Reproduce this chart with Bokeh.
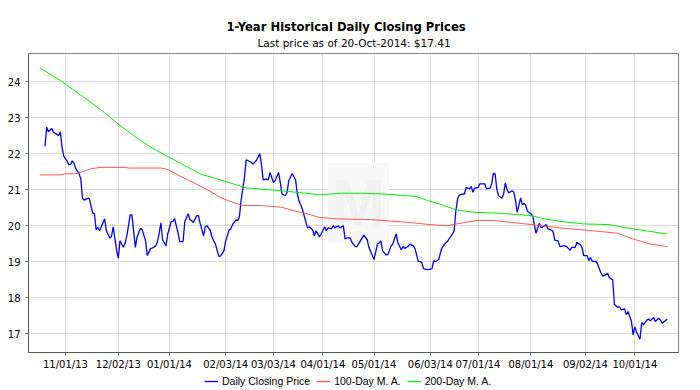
import pandas as pd
from bokeh.plotting import figure
from bokeh.layouts import column
from bokeh.models import (Range1d, FixedTicker, DatetimeTickFormatter, Legend,
                          LegendItem, Label)
from bokeh.embed import file_html
from bokeh.resources import INLINE

title_text = "1-Year Historical Daily Closing Prices"
subtitle_text = "Last price as of 20-Oct-2014: $17.41"

price_dates = [
    "2013-10-20", "2013-10-21", "2013-10-22", "2013-10-24", "2013-10-25", "2013-10-27", "2013-10-28",
    "2013-10-29", "2013-10-30", "2013-10-31", "2013-11-02", "2013-11-03", "2013-11-04", "2013-11-05",
    "2013-11-06", "2013-11-07", "2013-11-09", "2013-11-10", "2013-11-11", "2013-11-12", "2013-11-14",
    "2013-11-15", "2013-11-16", "2013-11-17", "2013-11-18", "2013-11-19", "2013-11-20", "2013-11-21",
    "2013-11-24", "2013-11-25", "2013-11-27", "2013-11-28", "2013-11-29", "2013-12-01", "2013-12-02",
    "2013-12-03", "2013-12-05", "2013-12-06", "2013-12-07", "2013-12-09", "2013-12-10", "2013-12-12",
    "2013-12-13", "2013-12-15", "2013-12-16", "2013-12-18", "2013-12-19", "2013-12-21", "2013-12-22",
    "2013-12-24", "2013-12-25", "2013-12-26", "2013-12-27", "2013-12-28", "2013-12-30", "2013-12-31",
    "2014-01-02", "2014-01-03", "2014-01-04", "2014-01-06", "2014-01-07", "2014-01-09", "2014-01-10",
    "2014-01-12", "2014-01-13", "2014-01-14", "2014-01-15", "2014-01-17", "2014-01-18", "2014-01-19",
    "2014-01-21", "2014-01-22", "2014-01-23", "2014-01-25", "2014-01-26", "2014-01-27", "2014-01-28",
    "2014-01-30", "2014-01-31", "2014-02-02", "2014-02-03", "2014-02-05", "2014-02-06", "2014-02-07",
    "2014-02-09", "2014-02-10", "2014-02-11", "2014-02-12", "2014-02-14", "2014-02-15", "2014-02-16",
    "2014-02-18", "2014-02-19", "2014-02-21", "2014-02-23", "2014-02-24", "2014-02-25", "2014-02-27",
    "2014-02-28", "2014-03-01", "2014-03-03", "2014-03-04", "2014-03-06", "2014-03-07", "2014-03-08",
    "2014-03-10", "2014-03-11", "2014-03-12", "2014-03-14", "2014-03-16", "2014-03-17", "2014-03-18",
    "2014-03-20", "2014-03-21", "2014-03-23", "2014-03-24", "2014-03-26", "2014-03-27", "2014-03-28",
    "2014-03-30", "2014-03-31", "2014-04-02", "2014-04-03", "2014-04-04", "2014-04-06", "2014-04-07",
    "2014-04-08", "2014-04-10", "2014-04-11", "2014-04-13", "2014-04-14", "2014-04-15", "2014-04-17",
    "2014-04-18", "2014-04-20", "2014-04-21", "2014-04-23", "2014-04-25", "2014-04-27", "2014-04-28",
    "2014-04-30", "2014-05-01", "2014-05-03", "2014-05-04", "2014-05-05", "2014-05-06", "2014-05-08",
    "2014-05-09", "2014-05-11", "2014-05-12", "2014-05-14", "2014-05-15", "2014-05-17", "2014-05-18",
    "2014-05-19", "2014-05-21", "2014-05-22", "2014-05-24", "2014-05-25", "2014-05-27", "2014-05-28",
    "2014-05-29", "2014-05-30", "2014-06-01", "2014-06-02", "2014-06-04", "2014-06-05", "2014-06-06",
    "2014-06-08", "2014-06-09", "2014-06-10", "2014-06-12", "2014-06-13", "2014-06-15", "2014-06-16",
    "2014-06-17", "2014-06-18", "2014-06-19", "2014-06-20", "2014-06-22", "2014-06-23", "2014-06-24",
    "2014-06-26", "2014-06-27", "2014-06-28", "2014-06-29", "2014-07-01", "2014-07-02", "2014-07-04",
    "2014-07-05", "2014-07-06", "2014-07-08", "2014-07-09", "2014-07-10", "2014-07-11", "2014-07-12",
    "2014-07-13", "2014-07-15", "2014-07-16", "2014-07-17", "2014-07-18", "2014-07-19", "2014-07-21",
    "2014-07-22", "2014-07-23", "2014-07-24", "2014-07-26", "2014-07-27", "2014-07-28", "2014-07-29",
    "2014-07-30", "2014-08-01", "2014-08-02", "2014-08-03", "2014-08-04", "2014-08-06", "2014-08-07",
    "2014-08-08", "2014-08-10", "2014-08-11", "2014-08-13", "2014-08-14", "2014-08-15", "2014-08-17",
    "2014-08-18", "2014-08-20", "2014-08-21", "2014-08-22", "2014-08-24", "2014-08-25", "2014-08-27",
    "2014-08-28", "2014-08-30", "2014-08-31", "2014-09-01", "2014-09-03", "2014-09-04", "2014-09-05",
    "2014-09-06", "2014-09-08", "2014-09-09", "2014-09-11", "2014-09-12", "2014-09-13", "2014-09-15",
    "2014-09-16", "2014-09-18", "2014-09-19", "2014-09-21", "2014-09-22", "2014-09-23", "2014-09-25",
    "2014-09-26", "2014-09-27", "2014-09-29", "2014-09-30", "2014-10-01", "2014-10-02", "2014-10-04",
    "2014-10-05", "2014-10-06", "2014-10-08", "2014-10-09", "2014-10-10", "2014-10-12", "2014-10-13",
    "2014-10-15", "2014-10-16", "2014-10-17", "2014-10-20",
]
price_values = [
    22.20, 22.73, 22.61, 22.70, 22.59, 22.54, 22.50,
    22.61, 22.18, 21.93, 21.79, 21.69, 21.70, 21.80,
    21.73, 21.60, 21.44, 21.30, 20.76, 20.71, 20.76,
    20.76, 20.54, 20.35, 20.34, 19.89, 19.95, 19.86,
    20.19, 19.86, 19.66, 19.70, 19.97, 19.32, 19.10,
    19.58, 19.40, 19.51, 19.72, 20.30, 20.30, 19.40,
    19.68, 19.93, 19.89, 19.58, 19.17, 19.37, 19.38,
    19.44, 19.56, 19.80, 20.08, 19.61, 19.44, 19.77,
    20.11, 20.12, 20.20, 19.81, 19.56, 19.56, 20.11,
    20.33, 20.17, 20.14, 20.09, 20.28, 20.28, 20.07,
    19.72, 19.97, 20.00, 19.86, 19.68, 19.58, 19.49,
    19.14, 19.16, 19.31, 19.58, 19.88, 19.91, 20.03,
    20.16, 20.14, 20.23, 20.69, 21.34, 21.83, 21.81,
    21.76, 21.71, 21.81, 22.00, 21.69, 21.27, 21.30,
    21.27, 21.48, 21.20, 21.25, 21.48, 21.20, 20.88,
    20.83, 20.93, 21.25, 21.45, 21.27, 20.88, 20.69,
    20.46, 20.28, 19.94, 19.97, 19.88, 19.72, 19.86,
    19.69, 19.77, 19.97, 19.86, 19.94, 19.91, 20.00,
    19.94, 20.00, 19.94, 20.00, 19.63, 19.66, 19.66,
    19.54, 19.42, 19.42, 19.58, 19.74, 19.61, 19.40,
    19.17, 19.06, 19.49, 19.52, 19.58, 19.31, 19.19,
    19.19, 19.44, 19.49, 19.77, 19.52, 19.33, 19.43,
    19.37, 19.43, 19.49, 19.44, 19.37, 19.00, 19.00,
    18.98, 18.81, 18.78, 18.78, 18.81, 19.03, 19.00,
    19.06, 19.26, 19.40, 19.52, 19.56, 19.70, 19.77,
    19.86, 20.42, 20.74, 20.85, 20.88, 20.88, 21.06,
    21.02, 21.09, 20.93, 21.04, 21.06, 21.16, 21.16,
    21.16, 21.02, 21.04, 21.16, 21.46, 21.44, 21.02,
    20.83, 20.76, 20.88, 21.19, 21.00, 20.91, 20.97,
    20.93, 20.69, 20.37, 20.77, 20.58, 20.62, 20.56,
    20.40, 20.33, 20.28, 20.05, 19.79, 20.07, 19.94,
    19.97, 20.03, 19.91, 19.88, 19.84, 19.60, 19.58,
    19.42, 19.44, 19.44, 19.42, 19.32, 19.40, 19.40,
    19.54, 19.47, 19.40, 19.17, 19.17, 19.03, 19.12,
    19.01, 19.01, 18.95, 18.70, 18.61, 18.61, 18.68,
    18.56, 18.49, 17.82, 17.73, 17.75, 17.66, 17.69,
    17.53, 17.62, 17.34, 16.97, 17.19, 17.04, 16.85,
    17.31, 17.25, 17.38, 17.41, 17.36, 17.45, 17.34,
    17.43, 17.38, 17.29, 17.41,
]

ma100_dates = [
    "2013-10-17", "2013-10-29", "2013-11-01", "2013-11-07", "2013-11-11", "2013-11-16", "2013-11-22",
    "2013-12-06", "2013-12-08", "2013-12-27", "2013-12-31", "2014-01-07", "2014-01-15", "2014-01-23",
    "2014-01-31", "2014-02-07", "2014-02-13", "2014-02-24", "2014-03-08", "2014-03-16", "2014-03-23",
    "2014-03-30", "2014-04-09", "2014-04-29", "2014-05-19", "2014-06-03", "2014-06-13", "2014-06-22",
    "2014-07-01", "2014-07-11", "2014-07-27", "2014-08-18", "2014-09-06", "2014-09-21", "2014-09-30",
    "2014-10-10", "2014-10-20",
]
ma100_values = [
    21.41, 21.41, 21.44, 21.44, 21.50, 21.58, 21.62,
    21.62, 21.60, 21.60, 21.56, 21.38, 21.20, 21.00,
    20.78, 20.65, 20.56, 20.56, 20.51, 20.40, 20.33,
    20.23, 20.19, 20.17, 20.10, 20.03, 20.00, 20.08,
    20.15, 20.14, 20.06, 19.94, 19.86, 19.79, 19.63,
    19.49, 19.42,
]

ma200_dates = [
    "2013-10-17", "2013-10-29", "2013-11-12", "2013-11-22", "2013-12-02", "2013-12-11", "2013-12-21",
    "2013-12-31", "2014-01-10", "2014-01-20", "2014-01-27", "2014-02-06", "2014-02-15", "2014-03-02",
    "2014-03-16", "2014-03-30", "2014-04-12", "2014-04-23", "2014-05-06", "2014-05-26", "2014-06-02",
    "2014-06-10", "2014-06-18", "2014-06-29", "2014-07-11", "2014-07-27", "2014-08-01", "2014-08-09",
    "2014-08-18", "2014-09-01", "2014-09-16", "2014-09-26", "2014-10-10", "2014-10-20",
]
ma200_values = [
    24.38, 24.03, 23.56, 23.21, 22.82, 22.50, 22.18,
    21.92, 21.67, 21.42, 21.33, 21.18, 21.05, 20.99,
    20.93, 20.86, 20.90, 20.90, 20.88, 20.81, 20.69,
    20.58, 20.44, 20.37, 20.35, 20.30, 20.28, 20.19,
    20.12, 20.05, 20.03, 19.94, 19.84, 19.77,
]

x_tick_dates = ["2013-11-01", "2013-12-02", "2014-01-01", "2014-02-03", "2014-03-03", "2014-04-01",
                "2014-05-01", "2014-06-03", "2014-07-01", "2014-08-01", "2014-09-02", "2014-10-01"]
y_ticks = [17, 18, 19, 20, 21, 22, 23, 24]
series_labels = ["Daily Closing Price", "100-Day M. A.", "200-Day M. A."]
series_colors = ["#0000ff", "#ff5555", "#00ee00"]
series_dates = [price_dates, ma100_dates, ma200_dates]
series_values = [price_values, ma100_values, ma200_values]

x_start = pd.Timestamp("2013-10-10 08:00")
x_end = pd.Timestamp("2014-10-26 14:00")


def blank_strip(height):
    f = figure(width=700, height=height, output_backend="svg", toolbar_location=None,
               x_range=Range1d(0, 1), y_range=Range1d(0, 1),
               x_axis_location=None, y_axis_location=None,
               min_border_left=0, min_border_right=0, min_border_top=0, min_border_bottom=0)
    f.outline_line_color = None
    f.grid.visible = False
    f.background_fill_color = "white"
    f.border_fill_color = "white"
    return f


# ---- header with title and subtitle (frame is aligned with the chart's frame) ----
hd = blank_strip(50)
hd.add_layout(Label(x=198, y=23.3, x_units="screen", y_units="screen", text=title_text,
                    text_align="left", text_baseline="middle", text_font="DejaVu Sans",
                    text_font_size="11.6px", text_font_style="bold", text_color="black"))
hd.add_layout(Label(x=229, y=7.7, x_units="screen", y_units="screen", text=subtitle_text,
                    text_align="left", text_baseline="middle", text_font="DejaVu Sans",
                    text_font_size="10.5px", text_font_style="normal", text_color="black"))

# ---- main chart ----
p = figure(width=700, height=324, x_axis_type="datetime", output_backend="svg",
           toolbar_location=None, x_range=Range1d(x_start, x_end),
           y_range=Range1d(16.48, 24.78),
           min_border_left=28, min_border_right=22, min_border_top=3, min_border_bottom=22)
p.background_fill_color = "white"
p.border_fill_color = "white"
p.outline_line_color = "#808080"
p.outline_line_width = 1

watermark = Label(x=299, y=110, x_units="screen", y_units="screen", text="M",
                  text_font="Liberation Sans", text_font_size="64px", text_font_style="bold",
                  text_color="#f0f0f0", background_fill_color="#f7f7f7", padding=4,
                  level="underlay")
p.add_layout(watermark)

widths = [1.3, 1, 1]
for d, v, c, w in zip(series_dates, series_values, series_colors, widths):
    p.line(pd.to_datetime(d), v, line_color=c, line_width=w)

tick_ms = [int(pd.Timestamp(d).value // 10**6) for d in x_tick_dates]
p.xaxis.ticker = FixedTicker(ticks=tick_ms)
fmt = "%m/%d/%y"
p.xaxis.formatter = DatetimeTickFormatter(milliseconds=fmt, seconds=fmt, minsec=fmt, minutes=fmt,
                                          hourmin=fmt, hours=fmt, days=fmt, months=fmt, years=fmt)
p.yaxis.ticker = FixedTicker(ticks=y_ticks)

for ax in (p.xaxis, p.yaxis):
    ax.axis_line_color = "#555555"
    ax.major_tick_line_color = "#777777"
    ax.major_tick_out = 3
    ax.major_tick_in = 0
    ax.minor_tick_line_color = None
    ax.major_label_text_font = "DejaVu Sans"
    ax.major_label_text_font_size = "10px"
    ax.major_label_text_color = "#000000"
p.xaxis.major_label_standoff = 3
p.yaxis.major_label_standoff = 5

p.xgrid.grid_line_color = "#dcdcdc"
p.ygrid.grid_line_color = "#dcdcdc"

# ---- legend strip under the chart (its lines lie outside its own view) ----
lg = blank_strip(16)
leg_renderers = [lg.line(pd.to_datetime(d), v, line_color=c, line_width=1.3)
                 for d, v, c in zip(series_dates, series_values, series_colors)]
legend = Legend(items=[LegendItem(label=lab, renderers=[r])
                       for lab, r in zip(series_labels, leg_renderers)],
                location=(176, 3), orientation="horizontal")
legend.label_text_font = "Liberation Sans"
legend.label_text_font_size = "10.5px"
legend.label_text_color = "black"
legend.glyph_width = 14
legend.glyph_height = 10
legend.label_height = 10
legend.label_standoff = 4
legend.spacing = 6
legend.padding = 0
legend.margin = 0
legend.border_line_color = None
legend.background_fill_alpha = 0
lg.add_layout(legend, "center")

layout = column(hd, p, lg, spacing=0)
open("out.html", "w").write(file_html(layout, INLINE))
